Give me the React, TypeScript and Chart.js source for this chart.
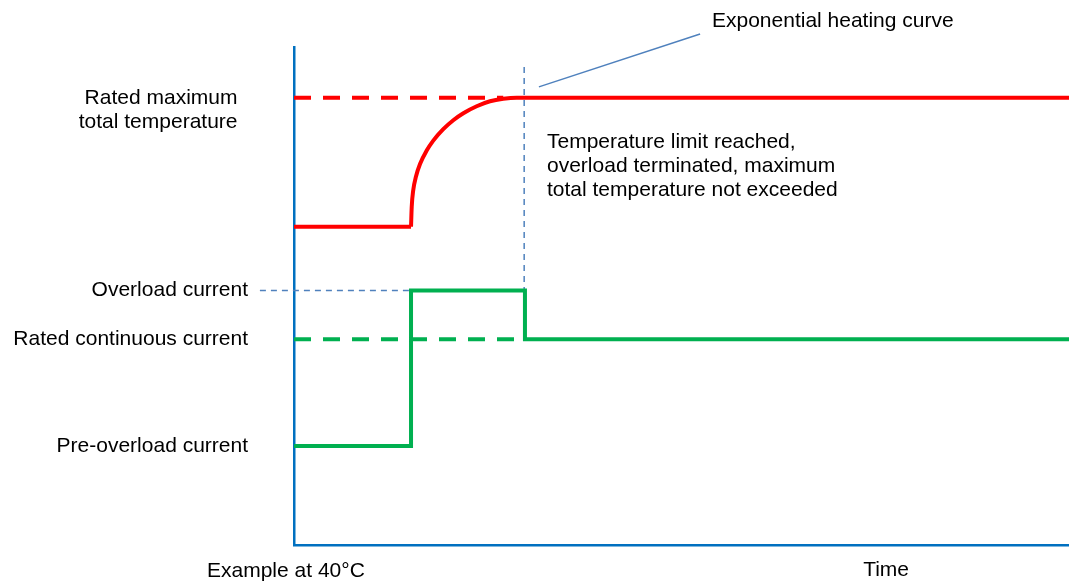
import React, { useEffect, useRef } from 'react';
import { Chart, registerables } from 'chart.js';

Chart.register(...registerables);

// Axis tick positions and labels
const yTickValues = [89.8, 51.1, 41.3, 19.9];
const yTickLabels: (string | string[])[] = [
  ['', 'Rated maximum\u2002', 'total temperature\u2002'],
  'Overload current',
  'Rated continuous current',
  'Pre-overload current',
];
const xTickValues = [76.4];
const xTickLabels = ['Time'];

// Temperature (red)
const redLowX = [0, 15.1];
const redLowY = [63.9, 63.9];
const redCurveX = [15.1, 15.19, 15.39, 15.74, 16.26, 17.12, 17.97, 19.26, 20.55, 21.85, 23.57, 25.29, 27.01, 28.74, 100];
const redCurveY = [63.9, 67.9, 71.3, 74.0, 76.5, 79.2, 81.2, 83.5, 85.3, 86.7, 88.1, 89.1, 89.6, 89.8, 89.8];
const redLimitX = [0, 27];
const redLimitY = [89.8, 89.8];

// Current (green)
const greenX = [0, 15.1, 15.1, 29.8, 29.8, 100];
const greenY = [19.9, 19.9, 51.1, 51.1, 41.3, 41.3];
const greenRatedX = [0, 29.8];
const greenRatedY = [41.3, 41.3];

// Guides (blue)
const guideHX = [-4.4, 15.1];
const guideHY = [51.1, 51.1];
const guideVX = [29.7, 29.7];
const guideVY = [96.0, 51.1];
const pointerX = [31.6, 52.4];
const pointerY = [92.0, 102.6];

const noteTitle = 'Exponential heating curve';
const noteLines = [
  'Temperature limit reached,',
  'overload terminated, maximum',
  'total temperature not exceeded',
];
const cornerLabel = 'Example at 40°C';

const FONT = "'Liberation Sans', Arial, sans-serif";
const RED = '#FF0000';
const GREEN = '#00B050';
const AXIS_BLUE = '#0070C0';
const GUIDE_BLUE = '#4F81BD';

const pts = (xs: number[], ys: number[]) => xs.map((x, i) => ({ x, y: ys[i] }));

const textPlugin = {
  id: 'texts',
  afterDraw(chart: any) {
    const ctx = chart.ctx;
    ctx.save();
    ctx.fillStyle = '#000';
    ctx.font = `21px ${FONT}`;
    ctx.textAlign = 'left';
    ctx.textBaseline = 'alphabetic';
    ctx.fillText(noteTitle, 712, 27);
    noteLines.forEach((t, i) => ctx.fillText(t, 547, 148 + i * 24));
    ctx.fillText(cornerLabel, 207, 577);
    ctx.restore();
  },
};

export default function App() {
  const ref = useRef<HTMLCanvasElement>(null);
  useEffect(() => {
    if (!ref.current) return;
    const base = {
      pointRadius: 0,
      fill: false,
      borderCapStyle: 'butt',
      borderJoinStyle: 'miter',
      tension: 0,
    };
    const chart = new Chart(ref.current, {
      type: 'line',
      data: {
        datasets: [
          { ...base, data: pts(greenX, greenY), borderColor: GREEN, borderWidth: 4 },
          { ...base, data: pts(redLowX, redLowY), borderColor: RED, borderWidth: 4 },
          {
            ...base,
            data: pts(redCurveX, redCurveY),
            borderColor: RED,
            borderWidth: 4,
            cubicInterpolationMode: 'monotone',
            borderJoinStyle: 'round',
          },
          { ...base, data: pts(redLimitX, redLimitY), borderColor: RED, borderWidth: 4, borderDash: [17, 12] },
          { ...base, data: pts(greenRatedX, greenRatedY), borderColor: GREEN, borderWidth: 4, borderDash: [17, 12] },
          { ...base, data: pts(guideHX, guideHY), borderColor: GUIDE_BLUE, borderWidth: 1.5, borderDash: [6, 5], clip: false },
          { ...base, data: pts(guideVX, guideVY), borderColor: GUIDE_BLUE, borderWidth: 1.5, borderDash: [6, 5] },
          { ...base, data: pts(pointerX, pointerY), borderColor: GUIDE_BLUE, borderWidth: 1.5, clip: false },
        ] as any,
      },
      options: {
        animation: false,
        responsive: false,
        devicePixelRatio: 1,
        layout: { padding: { top: 47, right: 0, bottom: 0, left: 0 } },
        plugins: { legend: { display: false }, tooltip: { enabled: false } },
        events: [],
        scales: {
          x: {
            type: 'linear',
            min: 0,
            max: 100,
            grid: { display: false, drawTicks: false },
            border: { display: true, color: AXIS_BLUE, width: 2.5 },
            afterBuildTicks: (scale: any) => {
              scale.ticks = xTickValues.map((v) => ({ value: v }));
            },
            afterFit: (scale: any) => {
              scale.height = 36;
              scale.paddingLeft = 0;
              scale.paddingRight = 0;
              scale.paddingTop = 0;
              scale.paddingBottom = 0;
            },
            ticks: {
              autoSkip: false,
              maxRotation: 0,
              padding: 13,
              color: '#000',
              font: { family: FONT, size: 21, lineHeight: 1.15 },
              callback: (_v: any, i: number) => xTickLabels[i],
            },
          },
          y: {
            type: 'linear',
            min: 0,
            max: 100,
            grid: { display: false, drawTicks: false },
            border: { display: true, color: AXIS_BLUE, width: 2.5 },
            afterBuildTicks: (scale: any) => {
              scale.ticks = yTickValues.map((v) => ({ value: v }));
            },
            afterFit: (scale: any) => {
              scale.width = 294;
              scale.paddingLeft = 0;
              scale.paddingRight = 0;
              scale.paddingTop = 0;
              scale.paddingBottom = 0;
            },
            ticks: {
              autoSkip: false,
              padding: 46,
              color: '#000',
              font: { family: FONT, size: 21, lineHeight: 1.15 },
              callback: (_v: any, i: number) => yTickLabels[i],
            },
          },
        },
      } as any,
      plugins: [textPlugin],
    });
    return () => chart.destroy();
  }, []);
  return (
    <div style={{ position: 'fixed', left: 0, top: 0, width: 1069, height: 581, background: '#fff' }}>
      <canvas ref={ref} width={1069} height={581} style={{ display: 'block' }} />
    </div>
  );
}
